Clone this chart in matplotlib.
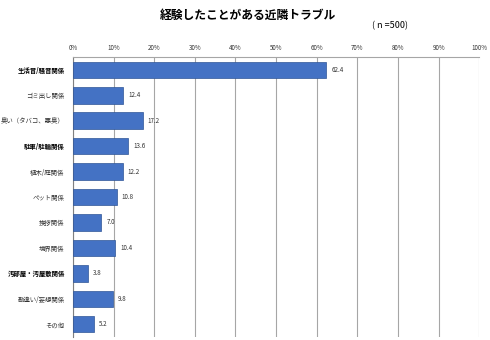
import matplotlib
matplotlib.use("Agg")
import matplotlib.pyplot as plt
from matplotlib.ticker import FuncFormatter

plt.rcParams['font.family'] = ['Noto Sans CJK JP', 'DejaVu Sans']

categories = ['生活音/騒音関係', 'ゴミ出し関係', '臭い（タバコ、悪臭）', '駐車/駐輪関係',
              '植木/庭関係', 'ペット関係', '挨拶関係', '境界関係',
              '汚部屋・汚屋敷関係', '勘違い/妄想関係', 'その他']
values = [62.4, 12.4, 17.2, 13.6, 12.2, 10.8, 7.0, 10.4, 3.8, 9.8, 5.2]
bold_labels = ['生活音/騒音関係', '駐車/駐輪関係', '汚部屋・汚屋敷関係']

fig = plt.figure(figsize=(4.9, 3.4), dpi=100)
ax = fig.add_axes([0.149, 0.009, 0.829, 0.823])

pos = list(range(len(categories)))
ax.barh(pos, values, height=0.65, color='#4472C4', edgecolor='#2F5597', linewidth=0.5, zorder=3)
for p, v in zip(pos, values):
    ax.text(v + 1.2, p, f'{v:.1f}', va='center', ha='left', fontsize=4.5, color='#333333')

ax.set_xlim(0, 100)
ax.set_ylim(len(categories) - 0.5, -0.5)
ax.set_xticks(range(0, 101, 10))
ax.xaxis.set_major_formatter(FuncFormatter(lambda x, _: f'{int(x)}%'))
ax.xaxis.tick_top()
ax.tick_params(axis='x', labelsize=4.5, length=0, pad=4, colors='#333333')
ax.set_yticks(pos)
ax.set_yticklabels(categories, fontsize=4.6)
ax.tick_params(axis='y', length=0, pad=6, colors='#333333')
for lbl in ax.get_yticklabels():
    if lbl.get_text() in bold_labels:
        lbl.set_fontweight('bold')
        lbl.set_color('black')

ax.grid(axis='x', color='#A6A6A6', linewidth=0.8, zorder=0)
for s in ['right', 'bottom']:
    ax.spines[s].set_visible(False)
ax.spines['top'].set_color('#A6A6A6')
ax.spines['left'].set_color('#808080')

fig.text(0.505, 0.955, '経験したことがある近隣トラブル', ha='center', va='center',
         fontsize=8.5, fontweight='bold')
fig.text(0.76, 0.925, '( n =500)', ha='left', va='center', fontsize=6.5)

fig.savefig('out.png', dpi=100)
